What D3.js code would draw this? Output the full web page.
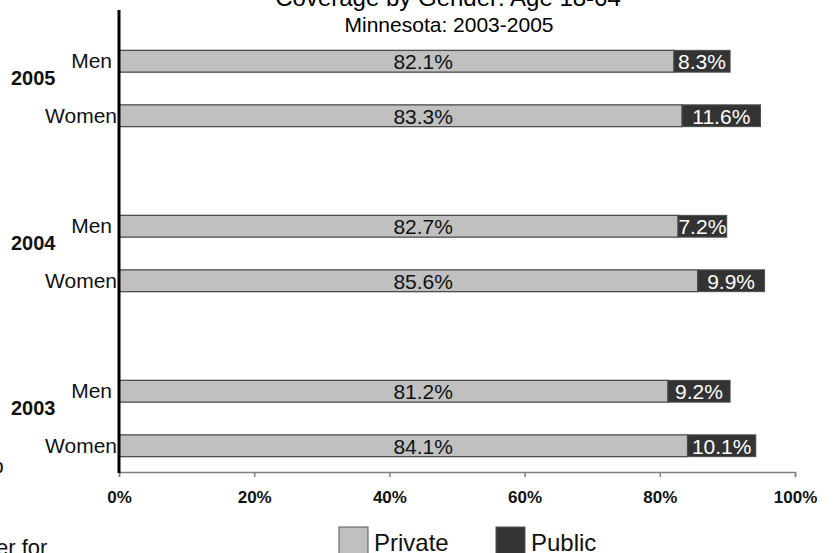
<!DOCTYPE html>
<html>
<head>
<meta charset="utf-8">
<script src="https://cdn.jsdelivr.net/npm/d3@7"></script>
<style>
  html, body { margin: 0; padding: 0; background: #fff; }
  svg { display: block; font-family: "Liberation Sans", Arial, sans-serif; }
</style>
</head>
<body>
<svg id="chart" width="835" height="553"></svg>
<script>
// ---- data ----
const years = ["2005", "2004", "2003"];
const genders = ["Men", "Women"];
const privateValues = [82.1, 83.3, 82.7, 85.6, 81.2, 84.1]; // order: 2005 Men, 2005 Women, 2004 Men, ...
const publicValues  = [8.3, 11.6, 7.2, 9.9, 9.2, 10.1];
const xTicks = [0, 20, 40, 60, 80, 100];
const seriesNames = ["Private", "Public"];
const title = "Coverage by Gender: Age 18-64";
const subtitle = "Minnesota: 2003-2005";

const rows = [];
years.forEach((yr, i) => genders.forEach((g, j) => {
  const k = i * 2 + j;
  rows.push({ year: yr, gender: g, priv: privateValues[k], pub: publicValues[k] });
}));

const svg = d3.select("#chart");
const colors = { Private: "#c0c0c0", Public: "#333333" };

const x = d3.scaleLinear().domain([0, 100]).range([119, 795]);
const yOuter = d3.scaleBand().domain(years).range([6, 501]).paddingInner(0).paddingOuter(0);
const yInner = d3.scaleBand().domain(genders).range([0, yOuter.bandwidth()])
  .paddingInner(0.6).paddingOuter(0.814);
const bh = yInner.bandwidth();
const yTop = d => yOuter(d.year) + yInner(d.gender);

// title
svg.append("text").attr("x", 448).attr("y", 6).attr("text-anchor", "middle")
  .attr("font-size", 24).attr("fill", "#000").text(title);
svg.append("text").attr("x", 449).attr("y", 32).attr("text-anchor", "middle")
  .attr("font-size", 21).attr("fill", "#000").text(subtitle);

// left cut-off fragments
svg.append("text").attr("x", -8).attr("y", 473).attr("font-size", 21).attr("fill", "#111").text("p");
svg.append("text").attr("x", -4).attr("y", 555).attr("font-size", 22).attr("fill", "#111").text("er for");

// bars
const g = svg.append("g");
g.selectAll("rect.priv").data(rows).join("rect").attr("class", "priv")
  .attr("x", x(0)).attr("y", yTop).attr("width", d => x(d.priv) - x(0)).attr("height", bh)
  .attr("fill", colors.Private).attr("stroke", "#4d4d4d").attr("stroke-width", 1.3);
g.selectAll("rect.pub").data(rows).join("rect").attr("class", "pub")
  .attr("x", d => x(d.priv)).attr("y", yTop).attr("width", d => x(d.priv + d.pub) - x(d.priv)).attr("height", bh)
  .attr("fill", colors.Public).attr("stroke", "#4d4d4d").attr("stroke-width", 1);

g.selectAll("text.pl").data(rows).join("text").attr("class", "pl")
  .attr("x", x(45)).attr("y", d => yTop(d) + bh / 2 + 7.8).attr("text-anchor", "middle")
  .attr("font-size", 21).attr("fill", "#111").text(d => d.priv.toFixed(1) + "%");
g.selectAll("text.ul").data(rows).join("text").attr("class", "ul")
  .attr("x", d => (x(d.priv) + x(d.priv + d.pub)) / 2).attr("y", d => yTop(d) + bh / 2 + 7.8)
  .attr("text-anchor", "middle").attr("font-size", 21).attr("fill", "#fff")
  .text(d => d.pub.toFixed(1) + "%");

// category labels
g.selectAll("text.gl").data(rows).join("text").attr("class", "gl")
  .attr("x", d => d.gender === "Men" ? 112 : 117).attr("y", d => yTop(d) + (d.gender === "Men" ? 18 : 18))
  .attr("text-anchor", "end").attr("font-size", 21).attr("fill", "#111").text(d => d.gender);
svg.selectAll("text.yr").data(years).join("text").attr("class", "yr")
  .attr("x", 11).attr("y", d => yOuter(d) + 79).attr("font-size", 20).attr("font-weight", "bold")
  .attr("fill", "#111").text(d => d);

// x axis
const xAxis = d3.axisBottom(x).tickValues(xTicks).tickSize(5).tickPadding(0).tickFormat(d => d + "%");
const ax = svg.append("g").attr("transform", "translate(0,472)").call(xAxis);
ax.select(".domain").attr("stroke", "#808080").attr("stroke-width", 1.5);
ax.selectAll(".tick line").attr("stroke", "#808080").attr("stroke-width", 1.5);
ax.selectAll(".tick text").attr("font-family", "'Liberation Sans', Arial, sans-serif")
  .attr("font-size", 17).attr("font-weight", "bold").attr("fill", "#111")
  .attr("y", 31).attr("dy", null);

// y axis line
svg.append("line").attr("x1", x(0)).attr("x2", x(0)).attr("y1", 10).attr("y2", 473)
  .attr("stroke", "#000").attr("stroke-width", 3);

// legend
const lg = svg.append("g");
const legX = [339, 496];
seriesNames.forEach((s, i) => {
  lg.append("rect").attr("x", legX[i]).attr("y", 527).attr("width", 29).attr("height", 30)
    .attr("fill", colors[s]).attr("stroke", "#555").attr("stroke-width", 1);
  lg.append("text").attr("x", legX[i] + 35).attr("y", 551).attr("font-size", 24).attr("fill", "#111").text(s);
});
</script>
</body>
</html>
